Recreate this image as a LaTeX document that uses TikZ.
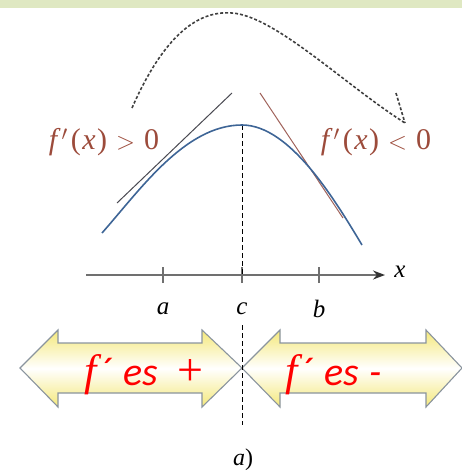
\documentclass[tikz,border=0pt]{standalone}
\usepackage{fontspec}
\setmainfont{Liberation Serif}
\newfontfamily\carl{Carlito}
\newfontfamily\fserif{Liberation Serif}
\usetikzlibrary{arrows.meta}
\definecolor{bandgreen}{HTML}{DFE8C2}
\definecolor{curveblue}{HTML}{3E6596}
\definecolor{labbrown}{HTML}{9C4B3B}
\definecolor{tanright}{HTML}{A0625A}
\definecolor{tanleft}{HTML}{4A4A52}
\definecolor{axisgray}{HTML}{707070}
\definecolor{arredge}{HTML}{8A949E}
\definecolor{arryel}{HTML}{F4E87A}
\tikzset{
  lab/.style={text=labbrown, font=\fontsize{30}{30}\selectfont, inner sep=0pt},
  ticklab/.style={font=\fontsize{25}{25}\selectfont\itshape, inner sep=0pt},
  redtxt/.style={text=red, font=\carl\fontsize{40}{40}\selectfont\itshape, inner sep=0pt},
  fatarrow/.style={draw=arredge, line width=1.1pt, top color=arryel, bottom color=arryel, middle color=white},
  vdash/.style={draw=black, line width=0.9pt, dash pattern=on 5pt off 3pt},
  topdash/.style={draw=black!75, line width=1.6pt, dash pattern=on 3pt off 2pt}
}
\newcommand{\redf}{{\fserif\itshape\fontsize{44}{44}\selectfont f}}
\newcommand{\redplus}{{\fserif\upshape\fontsize{46}{46}\selectfont +}}
\begin{document}
\begin{tikzpicture}[x=1pt,y=-1pt]
\useasboundingbox (0,0) rectangle (462,471);
\fill[bandgreen] (0,0) rectangle (462,8);
% top dashed curve
\coordinate (ds) at (132,108);
\coordinate (dp) at (232,13);
\coordinate (de) at (405,123);
\coordinate (dh) at (396,93);
\draw[topdash] (ds) .. controls (162,40) and (195,10) .. (dp) .. controls (275,16) and (345,85) .. (de);
\draw[topdash] (dh) -- (de);
% axis
\coordinate (ax0) at (86,275);
\coordinate (ax1) at (385,275);
\draw[axisgray, line width=1.6pt, -{Stealth[length=12pt,width=9pt,black!80]}] (ax0) -- (ax1);
\node[ticklab] (xl) at (400,272) {x};
\foreach \n/\xx in {a/163,c/242,b/319}{
  \coordinate (t\n) at (\xx,275);
  \draw[axisgray, line width=1.3pt] ([yshift=-8pt]t\n) -- ([yshift=8pt]t\n);
  \node[ticklab] (l\n) at (\xx,309) {\n};
}
% vertical dashed line
\coordinate (peak) at (242,125);
\coordinate (vlow) at (242,425);
\coordinate (vmid) at (242,325);
\draw[vdash] (peak) -- (tc);
% fat arrows
\path[fatarrow] (20,368) -- (58,330) -- (58,343) -- (202,343) -- (202,330) -- (242,368) -- (202,407) -- (202,393) -- (58,393) -- (58,407) -- cycle;
\path[fatarrow] (242,368) -- (280,330) -- (280,343) -- (426,343) -- (426,330) -- (462,368) -- (426,407) -- (426,393) -- (280,393) -- (280,407) -- cycle;
\draw[vdash] (vmid) -- (vlow);
\node[redtxt, anchor=base west] (tl) at (84,385) {\redf\kern3pt´\kern12pt es\kern20pt\redplus};
\node[redtxt, anchor=base west] (tr) at (285,385) {\redf\kern3pt´\kern12pt es\kern11pt-};
% tangents
\coordinate (ta1) at (117,203);
\coordinate (ta2) at (232,93);
\coordinate (tb1) at (260,93);
\coordinate (tb2) at (343,218);
\draw[tanleft, line width=1pt] (ta1) -- (ta2);
\draw[tanright, line width=1pt] (tb1) -- (tb2);
% blue curve
\coordinate (cs) at (102,233);
\coordinate (ce) at (362,245);
\draw[curveblue, line width=1.6pt] (cs) .. controls (140,190) and (185,125) .. (peak) .. controls (290,125) and (335,200) .. (ce);
% labels
\node[lab] (lp) at (104,142) {\textit{f}\kern1pt$'$\kern3pt(\kern1.5pt\textit{x}\kern1.5pt)\kern9pt$>$\kern9pt0};
\node[lab] (ln) at (376,142) {\textit{f}\kern1pt$'$\kern3pt(\kern1.5pt\textit{x}\kern1.5pt)\kern9pt$<$\kern9pt0};
\node[font=\fontsize{24}{24}\selectfont, inner sep=0pt] (cap) at (243,460) {\textit{a})};
\end{tikzpicture}
\end{document}
